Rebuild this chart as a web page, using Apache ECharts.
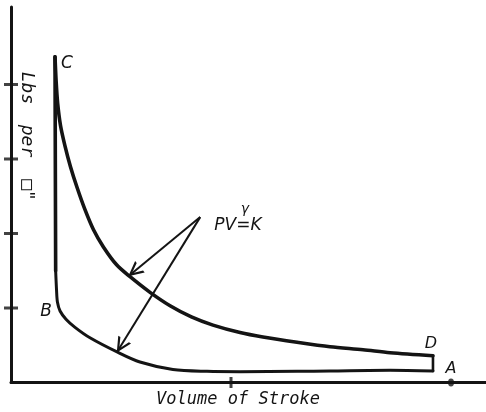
<!DOCTYPE html>
<html>
<head>
<meta charset="utf-8">
<script src="https://cdn.jsdelivr.net/npm/echarts@6/dist/echarts.min.js"></script>
<style>
  html, body { margin: 0; padding: 0; background: #ffffff; }
  #chart { width: 486px; height: 412px; }
</style>
</head>
<body>
<div id="chart"></div>
<script>
// Indicator diagram: pressure vs. volume over one stroke.

// Expansion curve, C -> D
const expansionVolume   = [0.200, 0.205, 0.212, 0.225, 0.245, 0.270, 0.300, 0.335, 0.375, 0.420, 0.480, 0.541, 0.632, 0.723, 0.820, 0.918, 1.041, 1.145, 1.300, 1.450, 1.600, 1.723, 1.918];
const expansionPressure = [4.37, 4.05, 3.75, 3.45, 3.18, 2.90, 2.62, 2.33, 2.05, 1.82, 1.58, 1.42, 1.21, 1.03, 0.88, 0.77, 0.67, 0.61, 0.54, 0.48, 0.44, 0.40, 0.36];

// Release at end of stroke, D -> bottom
const releaseVolume   = [1.918, 1.918];
const releasePressure = [0.36, 0.155];

// Compression curve back to B
const compressionVolume   = [1.918, 1.723, 1.450, 1.300, 1.041, 0.891, 0.736, 0.586, 0.482, 0.359, 0.291, 0.250, 0.223, 0.211, 0.207, 0.203];
const compressionPressure = [0.155, 0.165, 0.155, 0.150, 0.145, 0.150, 0.175, 0.275, 0.410, 0.600, 0.740, 0.850, 0.960, 1.080, 1.240, 1.500];

// Admission, B -> C
const admissionVolume   = [0.203, 0.200];
const admissionPressure = [1.500, 4.37];

// Axis tick marks
const pressureTicks = [1, 2, 3, 4];
const volumeTicks   = [1];
const strokeEnd     = [2];   // point A

// Arrows from the PV^γ=K note to both curves
const arrowStart = [0.86, 2.22];
const arrowEnds  = [[0.535, 1.43], [0.482, 0.41]];

const pairs = (xs, ys) => xs.map((x, i) => [x, ys[i]]);
const INK = '#141414';

const chevron = 'path://M0,16 L6,0 L12,16 L10,16 L6,5 L2,16 Z';

const chart = echarts.init(document.getElementById('chart'), null, { renderer: 'canvas' });

const curveLine = (name, xs, ys, width, smooth) => ({
  name, type: 'line', data: pairs(xs, ys), smooth,
  symbol: 'none', silent: true, clip: false,
  lineStyle: { color: INK, width, cap: 'round', join: 'round' }
});

const labelFont = "italic 17px 'DejaVu Sans'";

chart.setOption({
  animation: false,
  backgroundColor: '#ffffff',
  grid: { left: 11, right: 0, top: 7, bottom: 29.5 },
  xAxis: {
    type: 'value', min: 0, max: 2.159, interval: 1,
    axisLine: { show: true, onZero: false, lineStyle: { color: INK, width: 3 } },
    axisTick: { show: false }, axisLabel: { show: false }, splitLine: { show: false }
  },
  yAxis: {
    type: 'value', min: 0, max: 5.04, interval: 1,
    axisLine: { show: true, onZero: false, lineStyle: { color: INK, width: 3 } },
    axisTick: { show: false }, axisLabel: { show: false }, splitLine: { show: false }
  },
  series: [
    curveLine('expansion', expansionVolume, expansionPressure, 3.6, 0.3),
    curveLine('release', releaseVolume, releasePressure, 2.6, false),
    curveLine('compression', compressionVolume, compressionPressure, 3.0, 0.3),
    curveLine('admission', admissionVolume, admissionPressure, 3.6, false),
    {
      name: 'pressure ticks', type: 'scatter', clip: false, silent: true,
      data: pressureTicks.map(p => [0, p]),
      symbol: 'rect', symbolSize: [14, 3], itemStyle: { color: INK }
    },
    {
      name: 'volume ticks', type: 'scatter', clip: false, silent: true,
      data: volumeTicks.map(v => [v, 0]),
      symbol: 'rect', symbolSize: [3, 11], itemStyle: { color: INK }
    },
    {
      name: 'A', type: 'scatter', clip: false, silent: true,
      data: strokeEnd.map(v => [v, 0]),
      symbol: 'circle', symbolSize: [6, 8], itemStyle: { color: INK }
    },
    {
      name: 'arrows', type: 'line', data: [], silent: true,
      markLine: {
        silent: true, animation: false,
        symbol: ['none', chevron], symbolSize: 15,
        label: { show: false },
        lineStyle: { color: INK, width: 2, type: 'solid' },
        emphasis: { disabled: true },
        data: arrowEnds.map(e => [
          { coord: arrowStart },
          { coord: e, symbolOffset: [0, 7] }
        ])
      }
    }
  ],
  graphic: [
    { type: 'text', x: 67, y: 64, style: { text: 'C', font: labelFont, fill: INK, align: 'center', verticalAlign: 'middle' } },
    { type: 'text', x: 46, y: 312, style: { text: 'B', font: labelFont, fill: INK, align: 'center', verticalAlign: 'middle' } },
    { type: 'text', x: 431, y: 344, style: { text: 'D', font: "italic 16px 'DejaVu Sans'", fill: INK, align: 'center', verticalAlign: 'middle' } },
    { type: 'text', x: 451, y: 369, style: { text: 'A', font: "italic 16px 'DejaVu Sans'", fill: INK, align: 'center', verticalAlign: 'middle' } },
    { type: 'text', x: 238, y: 226, style: { text: 'PV=K', font: "italic 17px 'DejaVu Sans'", fill: INK, align: 'center', verticalAlign: 'middle' } },
    { type: 'text', x: 245, y: 209, style: { text: 'γ', font: "italic 14px 'DejaVu Sans'", fill: INK, align: 'center', verticalAlign: 'middle' } },
    { type: 'text', x: 238, y: 400, style: { text: 'Volume of Stroke', font: "italic 17px 'DejaVu Sans Mono'", fill: INK, align: 'center', verticalAlign: 'middle' } },
    { type: 'text', x: 27, y: 88, rotation: -Math.PI / 2, style: { text: 'Lbs', font: "italic 18px 'DejaVu Sans Mono'", fill: INK, align: 'center', verticalAlign: 'middle' } },
    { type: 'text', x: 27, y: 141, rotation: -Math.PI / 2, style: { text: 'per', font: "italic 18px 'DejaVu Sans Mono'", fill: INK, align: 'center', verticalAlign: 'middle' } },
    { type: 'text', x: 27, y: 190, rotation: -Math.PI / 2, style: { text: '□"', font: "italic 18px 'DejaVu Sans Mono'", fill: INK, align: 'center', verticalAlign: 'middle' } }
  ]
});
</script>
</body>
</html>
